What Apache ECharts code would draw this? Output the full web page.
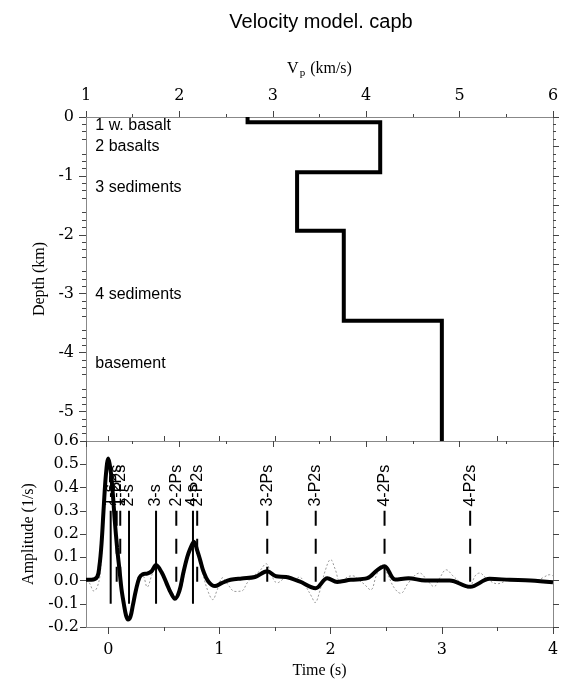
<!DOCTYPE html>
<html><head><meta charset="utf-8">
<script src="https://cdn.jsdelivr.net/npm/echarts@6/dist/echarts.min.js"></script>
<style>html,body{margin:0;padding:0;background:#fff}#c{width:562px;height:685px}</style>
</head><body><div id="c"></div>
<script>
// ---------- data ----------
const chartTitle = 'Velocity model. capb';
const vpTicks = [1, 2, 3, 4, 5, 6];
const depthTicks = [0, -1, -2, -3, -4, -5];
const timeTicks = [0, 1, 2, 3, 4];
const timeHalfTicks = [0.5, 1.5, 2.5, 3.5];
const ampTicks = [-0.2, -0.1, 0.0, 0.1, 0.2, 0.3, 0.4, 0.5, 0.6];

const layerNames = ['1 w. basalt', '2 basalts', '3 sediments', '4 sediments', 'basement'];
const layerVp = [2.73, 4.15, 3.26, 3.76, 4.81];
const layerTop = [0, -0.09, -0.94, -1.93, -3.46];
const layerBottom = [-0.09, -0.94, -1.93, -3.46, -5.5];
const layerLabelDepth = [-0.15, -0.5, -1.19, -3.02, -4.19];

const phaseNames = ['1-s', '1-2Ps', '1-P2s', '2-s', '2-2Ps', '2-P2s', '3-s', '3-2Ps', '3-P2s', '4-s', '4-2Ps', '4-P2s'];
const phaseTimes = [0.022, 0.076, 0.108, 0.187, 0.612, 0.80, 0.43, 1.43, 1.866, 0.762, 2.485, 3.255];

const rfTime = [-0.2, -0.15, -0.1, -0.08, -0.06, -0.04, -0.02, 0.0, 0.02, 0.04, 0.06, 0.08, 0.1, 0.12, 0.14, 0.16, 0.178, 0.2, 0.22, 0.25, 0.28, 0.31, 0.35, 0.39, 0.43, 0.48, 0.524, 0.56, 0.6, 0.64, 0.675, 0.71, 0.736, 0.77, 0.8, 0.826, 0.856, 0.9, 0.96, 1.02, 1.1, 1.2, 1.32, 1.43, 1.51, 1.6, 1.72, 1.865, 1.97, 2.06, 2.18, 2.33, 2.42, 2.485, 2.58, 2.7, 2.85, 3.07, 3.255, 3.43, 3.61, 3.8, 4.0];
const rfAmp  = [0.003, 0.003, 0.015, 0.06, 0.16, 0.32, 0.46, 0.525, 0.48, 0.38, 0.25, 0.14, 0.05, -0.04, -0.1, -0.15, -0.168, -0.155, -0.11, -0.04, 0.012, 0.027, 0.03, 0.04, 0.067, 0.035, -0.011, -0.05, -0.079, -0.045, 0.032, 0.1, 0.135, 0.167, 0.13, 0.089, 0.04, -0.004, -0.024, -0.011, 0.003, 0.009, 0.015, 0.04, 0.018, 0.015, -0.004, -0.033, 0.01, -0.006, 0.003, 0.01, 0.045, 0.061, 0.004, 0.01, 0.0, 0.0, -0.027, 0.007, 0.003, 0.0, -0.008];

const rawTime = [-0.2, -0.17, -0.13, -0.1, -0.07, -0.04, -0.02, 0.0, 0.02, 0.04, 0.06, 0.08, 0.1, 0.12, 0.14, 0.16, 0.178, 0.2, 0.22, 0.25, 0.28, 0.31, 0.35, 0.39, 0.43, 0.48, 0.53, 0.57, 0.61, 0.65, 0.69, 0.73, 0.77, 0.81, 0.85, 0.9, 0.94, 0.98, 1.03, 1.08, 1.14, 1.2, 1.25, 1.3, 1.36, 1.42, 1.47, 1.52, 1.57, 1.62, 1.67, 1.72, 1.77, 1.83, 1.86, 1.9, 1.95, 2.0, 2.04, 2.09, 2.15, 2.2, 2.26, 2.3, 2.36, 2.41, 2.46, 2.51, 2.57, 2.63, 2.7, 2.8, 2.87, 2.93, 2.98, 3.04, 3.1, 3.17, 3.24, 3.3, 3.34, 3.4, 3.5, 3.6, 3.7, 3.85, 3.92, 3.97, 4.0];
const rawAmp  = [0.0, -0.01, -0.045, -0.03, 0.04, 0.3, 0.46, 0.52, 0.48, 0.37, 0.24, 0.13, 0.04, -0.05, -0.11, -0.155, -0.17, -0.15, -0.1, -0.03, 0.02, 0.02, -0.028, 0.02, 0.065, 0.03, -0.02, -0.06, -0.075, -0.045, 0.04, 0.12, 0.16, 0.115, 0.03, -0.05, -0.082, -0.04, 0.012, -0.02, -0.047, -0.045, -0.01, 0.017, 0.04, 0.072, 0.02, -0.01, 0.005, 0.02, 0.0, 0.015, -0.02, -0.07, -0.095, -0.05, 0.04, 0.09, 0.05, -0.01, 0.015, 0.02, 0.0, -0.015, -0.04, 0.02, 0.068, 0.03, -0.03, -0.055, -0.01, 0.032, 0.0, -0.026, 0.01, 0.046, 0.02, -0.01, -0.035, 0.02, 0.032, 0.01, -0.014, 0.0, 0.0, 0.0, 0.015, 0.025, 0.02];

// ---------- build ----------
const serif = 'Liberation Serif';
const tickFont = 'DejaVu Serif';
const sans = 'Liberation Sans';
const lineCol = '#888';
const tickCol = '#444';

const stepData = [];
layerVp.forEach((v, i) => { stepData.push([v, layerTop[i]]); stepData.push([v, layerBottom[i]]); });
const layerLabelData = layerNames.map((n, i) => [1.1, layerLabelDepth[i], n]);

const baseAxis = {
  type: 'value', splitLine: { show: false },
  axisLine: { show: true, onZero: false, lineStyle: { color: lineCol, width: 1 } },
  axisTick: { show: true, inside: false, length: 6, lineStyle: { color: tickCol } },
  axisLabel: { show: false }
};
const ax = (o) => Object.assign({}, baseAxis, o);
const tickLabel = (extra) => Object.assign({ show: true, fontFamily: tickFont, fontSize: 16, color: '#000' }, extra);

const xAxis = [
  ax({ gridIndex: 0, position: 'top', min: 1, max: 6, interval: 1,
       axisLabel: tickLabel({ margin: 13, customValues: vpTicks }),
       minorTick: { show: true, splitNumber: 2, length: 3, lineStyle: { color: tickCol } },
       name: '{a|V}{b|p}{a| (km/s)}', nameLocation: 'middle', nameGap: 38,
       nameTextStyle: { rich: { a: { fontFamily: serif, fontSize: 16, color: '#000' },
                                b: { fontFamily: serif, fontSize: 11, color: '#000', padding: [10, 1, 0, 1] } } } }),
  ax({ gridIndex: 0, position: 'bottom', min: 1, max: 6, interval: 1,
       minorTick: { show: true, splitNumber: 2, length: 3, lineStyle: { color: tickCol } } }),
  ax({ gridIndex: 1, position: 'bottom', min: -0.2, max: 4,
       axisTick: { show: true, length: 7, customValues: timeTicks, lineStyle: { color: tickCol } },
       axisLabel: tickLabel({ margin: 15, customValues: timeTicks }),
       name: 'Time (s)', nameLocation: 'middle', nameGap: 36,
       nameTextStyle: { fontFamily: serif, fontSize: 16, color: '#000' } }),
  ax({ gridIndex: 1, position: 'bottom', min: -0.2, max: 4,
       axisTick: { show: true, length: 4, customValues: timeHalfTicks, lineStyle: { color: tickCol } } }),
  ax({ gridIndex: 1, position: 'top', min: -0.2, max: 4,
       axisTick: { show: true, length: 5, customValues: timeTicks.concat(timeHalfTicks), lineStyle: { color: tickCol } } })
];

const yAxis = [
  ax({ gridIndex: 0, position: 'left', min: -5.5, max: 0, interval: 0.5,
       axisTick: { show: true, length: 7, customValues: depthTicks, lineStyle: { color: tickCol } },
       minorTick: { show: true, splitNumber: 4, length: 4, lineStyle: { color: tickCol } },
       axisLabel: tickLabel({ margin: 12, customValues: depthTicks }),
       name: 'Depth (km)', nameLocation: 'middle', nameGap: 38,
       nameTextStyle: { fontFamily: serif, fontSize: 16, color: '#000' } }),
  ax({ gridIndex: 0, position: 'right', min: -5.5, max: 0, interval: 0.5,
       minorTick: { show: true, splitNumber: 4, length: 3, lineStyle: { color: tickCol } } }),
  ax({ gridIndex: 1, position: 'left', min: -0.2, max: 0.6, interval: 0.1,
       axisLabel: tickLabel({ margin: 7, customValues: ampTicks,
                    formatter: v => (Math.abs(v) < 1e-9 ? 0 : v).toFixed(1) }),
       name: 'Amplitude (1/s)', nameLocation: 'middle', nameGap: 38,
       nameTextStyle: { fontFamily: serif, fontSize: 16, color: '#000' } }),
  ax({ gridIndex: 1, position: 'right', min: -0.2, max: 0.6, interval: 0.1 })
];

const series = [
  { type: 'line', xAxisIndex: 0, yAxisIndex: 0, data: stepData, symbol: 'none',
    lineStyle: { color: '#000', width: 4, join: 'miter', cap: 'butt' }, z: 5, silent: true },
  { type: 'scatter', xAxisIndex: 0, yAxisIndex: 0, data: layerLabelData, symbolSize: 0, silent: true,
    itemStyle: { opacity: 1 },
    label: { show: true, position: 'right', distance: 0, formatter: p => p.data[2], opacity: 1,
             fontFamily: sans, fontSize: 16, color: '#000' } },
  { type: 'line', xAxisIndex: 2, yAxisIndex: 2, data: rawTime.map((t, i) => [t, rawAmp[i]]),
    symbol: 'none', smooth: 0.4, lineStyle: { color: '#999', width: 1, type: [2, 2] }, z: 2, silent: true },
  { type: 'line', xAxisIndex: 2, yAxisIndex: 2, data: rfTime.map((t, i) => [t, rfAmp[i]]),
    symbol: 'none', smooth: 0.35, lineStyle: { color: '#000', width: 4 }, z: 4, silent: true }
];
phaseNames.forEach((n, i) => {
  const dashed = !/-s$/.test(n);
  const t = phaseTimes[i];
  series.push({ type: 'line', xAxisIndex: 2, yAxisIndex: 2, symbol: 'none', silent: true, z: 3,
    data: [[t, 0.3], [t, dashed ? -0.06 : -0.1]],
    lineStyle: { color: '#000', width: 2, type: dashed ? [15, 13] : 'solid' } });
});
series.push({ type: 'scatter', xAxisIndex: 2, yAxisIndex: 2, symbolSize: 0, silent: true, z: 6,
  itemStyle: { opacity: 1 },
  data: phaseNames.map((n, i) => [phaseTimes[i], 0.318, n]),
  label: { show: true, position: 'top', distance: 0, rotate: 90, align: 'left', verticalAlign: 'middle', opacity: 1,
           formatter: p => p.data[2], fontFamily: sans, fontSize: 16, color: '#000' } });

const chart = echarts.init(document.getElementById('c'), null, { renderer: 'canvas' });
chart.setOption({
  animation: false,
  backgroundColor: '#fff',
  title: { text: chartTitle, left: 316, top: 7, textAlign: 'center',
           textStyle: { fontFamily: sans, fontSize: 20, fontWeight: 'normal', color: '#000' } },
  grid: [
    { left: 86, top: 117, width: 467, height: 324 },
    { left: 86, top: 441, width: 467, height: 186 }
  ],
  xAxis, yAxis, series
});
</script></body></html>
